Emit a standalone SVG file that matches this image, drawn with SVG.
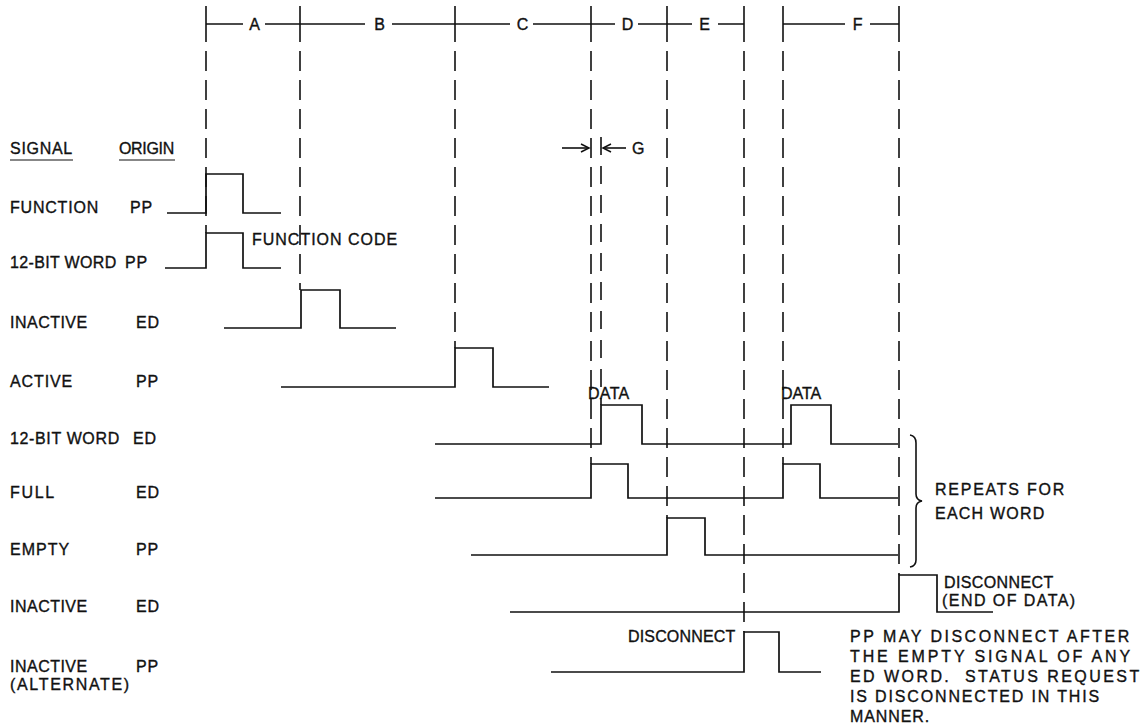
<svg xmlns="http://www.w3.org/2000/svg" width="1147" height="727" viewBox="0 0 1147 727">
<style>
  .t{font-family:"Liberation Sans",Arial,sans-serif;font-size:16px;fill:#111;stroke:#111;stroke-width:0.35;letter-spacing:0.8px}
  .sig{fill:none;stroke:#111;stroke-width:1.7;stroke-linejoin:miter}
  .dash{fill:none;stroke:#111;stroke-width:1.6;stroke-dasharray:20 9}
  .sol{fill:none;stroke:#111;stroke-width:1.6}
</style>
<defs>
  <marker id="arr" markerWidth="12" markerHeight="12" refX="9" refY="5" orient="auto" markerUnits="userSpaceOnUse">
    <path d="M1,1 L9,5 L1,9" fill="none" stroke="#111" stroke-width="1.5"/>
  </marker>
</defs>
<rect width="1147" height="727" fill="#fff"/>

<g id="ruler">
  <path class="sol" d="M206,6V42 M300,6V42 M455,6V42 M591,6V42 M667,6V42 M744,6V42 M783,6V42 M899,6V42"/>
  <path class="sol" d="M206,24H243 M265,24H365 M392,24H510 M533,24H615 M638,24H692 M718,24H744 M783,24H845 M870,24H899"/>
  <text class="t" x="255" y="30" text-anchor="middle">A</text>
  <text class="t" x="380" y="30" text-anchor="middle">B</text>
  <text class="t" x="523" y="30" text-anchor="middle">C</text>
  <text class="t" x="628" y="30" text-anchor="middle">D</text>
  <text class="t" x="705" y="30" text-anchor="middle">E</text>
  <text class="t" x="858" y="30" text-anchor="middle">F</text>
</g>

<g id="connectors">
  <path class="dash" d="M206,51V233"/>
  <path class="dash" d="M300,51V290"/>
  <path class="dash" d="M455,51V348"/>
  <path class="dash" d="M591,51V464"/>
  <path class="dash" d="M601,137V405" style="stroke-dasharray:18 11"/>
  <path class="dash" d="M667,51V518"/>
  <path class="dash" d="M744,51V632"/>
  <path class="dash" d="M783,51V464"/>
  <path class="dash" d="M899,51V575"/>
  <line class="sol" x1="562" y1="148" x2="589" y2="148" marker-end="url(#arr)"/>
  <line class="sol" x1="626" y1="148" x2="603" y2="148" marker-end="url(#arr)"/>
  <text class="t" x="632" y="154">G</text>
</g>

<g id="header">
  <text class="t" x="10" y="154" textLength="63">SIGNAL</text>
  <line class="sol" x1="10" y1="160" x2="73" y2="160" style="stroke-width:1.2"/>
  <text class="t" x="119" y="154" textLength="56">ORIGIN</text>
  <line class="sol" x1="119" y1="160" x2="175" y2="160" style="stroke-width:1.2"/>
</g>

<g id="function-pp">
  <text class="t" x="10" y="213" textLength="89">FUNCTION</text>
  <text class="t" x="130" y="213">PP</text>
  <path class="sig" d="M167,213H206V174H243V213H281"/>
</g>

<g id="word-pp">
  <text class="t" x="10" y="268" textLength="107">12-BIT WORD</text>
  <text class="t" x="125" y="268">PP</text>
  <path class="sig" d="M165,268H206V233H243V268H281"/>
  <text class="t" x="252" y="245" textLength="146">FUNCTION CODE</text>
</g>

<g id="inactive-ed">
  <text class="t" x="10" y="328" textLength="78">INACTIVE</text>
  <text class="t" x="136" y="328">ED</text>
  <path class="sig" d="M224,328H301V290H340V328H396"/>
</g>

<g id="active-pp">
  <text class="t" x="10" y="387" textLength="63">ACTIVE</text>
  <text class="t" x="136" y="387">PP</text>
  <path class="sig" d="M281,387H455V348H493V387H549"/>
</g>

<g id="word-ed">
  <text class="t" x="10" y="444" textLength="110">12-BIT WORD</text>
  <text class="t" x="133" y="444">ED</text>
  <path class="sig" d="M435,444H601V405H642V444H791V405H831V444H898"/>
  <text class="t" x="588" y="399" textLength="42">DATA</text>
  <text class="t" x="781" y="399" textLength="41">DATA</text>
</g>

<g id="full-ed">
  <text class="t" x="10" y="498" textLength="45">FULL</text>
  <text class="t" x="136" y="498">ED</text>
  <path class="sig" d="M435,498H591V464H628V498H783V464H820V498H898"/>
</g>

<g id="empty-pp">
  <text class="t" x="10" y="555" textLength="60">EMPTY</text>
  <text class="t" x="136" y="555">PP</text>
  <path class="sig" d="M471,555H667V518H705V555H898"/>
</g>

<g id="repeats">
  <path class="sol" d="M910,435 Q916,436 916,443 V494 Q916,500 922,501 Q916,502 916,508 V560 Q916,566 910,567"/>
  <text class="t" x="935" y="495" textLength="130">REPEATS FOR</text>
  <text class="t" x="935" y="519" textLength="110">EACH WORD</text>
</g>

<g id="inactive-ed-2">
  <text class="t" x="10" y="612" textLength="78">INACTIVE</text>
  <text class="t" x="136" y="612">ED</text>
  <path class="sig" d="M510,612H899V575H937V612H993"/>
  <text class="t" x="944" y="588" textLength="110">DISCONNECT</text>
  <text class="t" x="942" y="606" textLength="134">(END OF DATA)</text>
</g>

<g id="inactive-pp-alt">
  <text class="t" x="10" y="672" textLength="78">INACTIVE</text>
  <text class="t" x="136" y="672">PP</text>
  <text class="t" x="10" y="690" textLength="120">(ALTERNATE)</text>
  <path class="sig" d="M551,672H744V632H779V672H821"/>
  <text class="t" x="628" y="642" textLength="108">DISCONNECT</text>
</g>

<g id="note">
  <text class="t" x="850" y="642" textLength="280">PP MAY DISCONNECT AFTER</text>
  <text class="t" x="850" y="662" textLength="281">THE EMPTY SIGNAL OF ANY</text>
  <text class="t" x="850" y="682" textLength="290" xml:space="preserve">ED WORD.  STATUS REQUEST</text>
  <text class="t" x="850" y="702" textLength="250">IS DISCONNECTED IN THIS</text>
  <text class="t" x="850" y="722" textLength="80">MANNER.</text>
</g>
</svg>
